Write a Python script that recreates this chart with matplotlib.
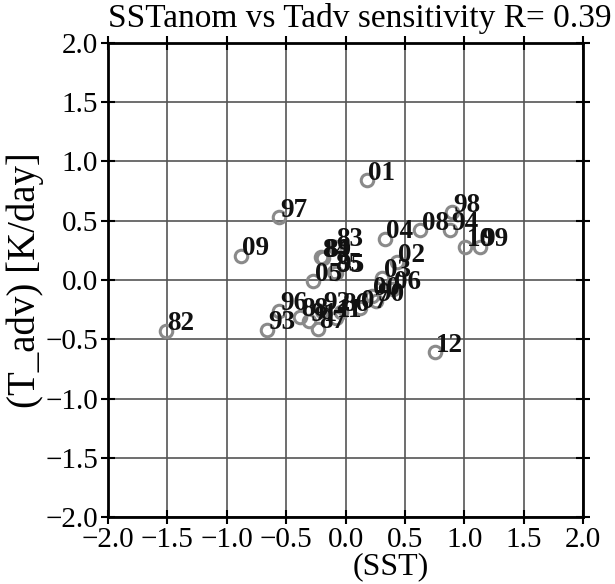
import matplotlib
matplotlib.use("Agg")
import matplotlib.pyplot as plt
import numpy as np

years = ["82", "83", "84", "85", "86", "87", "88", "89", "90", "91",
         "92", "93", "94", "95", "96", "97", "98", "99", "00", "01",
         "02", "03", "04", "05", "06", "07", "08", "09", "10", "11", "12"]
sst = [-1.51, -0.09, -0.21, -0.10, -0.04, -0.23, -0.38, -0.19, 0.26, -0.31,
       -0.20, -0.66, 0.88, -0.08, -0.56, -0.56, 0.90, 1.13, 0.22, 0.18,
       0.43, 0.31, 0.33, -0.27, 0.40, 0.12, 0.63, -0.88, 1.01, -0.08, 0.75]
tadv = [-0.43, 0.28, 0.19, 0.07, -0.27, -0.41, -0.31, 0.185, -0.18, -0.35,
        -0.26, -0.42, 0.42, 0.06, -0.26, 0.53, 0.57, 0.28, -0.135, 0.84,
        0.15, 0.02, 0.35, -0.01, -0.08, -0.24, 0.42, 0.205, 0.28, -0.32, -0.61]
ticks = np.arange(-2.0, 2.01, 0.5)

plt.rcParams['font.family'] = ['Liberation Serif', 'DejaVu Serif']

fig = plt.figure(figsize=(6.15, 5.84), dpi=100)
ax = fig.add_axes([0.1756, 0.1147, 0.7724, 0.8117])

ax.plot(sst, tadv, 'o', ms=9, mfc='none', mec='#8a8a8a', mew=2.2, zorder=3)
for yr, x, y in zip(years, sst, tadv):
    ax.text(x + 0.01, y + 0.005, yr, fontsize=19.5, fontweight='bold',
            ha='left', va='baseline', color='#111111', zorder=4)

ax.set_xlim(-2, 2)
ax.set_ylim(-2, 2)
ax.set_xticks(ticks)
ax.set_yticks(ticks)
ax.set_xticklabels([f"{t:.1f}".replace("-", "\u2212") for t in ticks])
ax.set_yticklabels([f"{t:.1f}".replace("-", "\u2212") for t in ticks])
ax.grid(True, color='#555555', lw=1.2)
ax.set_axisbelow(True)
ax.tick_params(direction='inout', length=10, width=1.5, labelsize=21,
               top=True, right=True, pad=2)
for s in ax.spines.values():
    s.set_linewidth(2)

fig.text(360 / 615, 1 - 18 / 584, "SSTanom vs Tadv sensitivity R= 0.39",
         fontsize=24, ha='center', va='center')
fig.text(391 / 615, 1 - 567 / 584, "(SST)", fontsize=23, ha='center', va='center')
fig.text(25 / 615, 1 - 280 / 584, "(T_adv) [K/day]", fontsize=28, rotation=90,
         ha='center', va='center')

fig.savefig("out.png", dpi=100)
